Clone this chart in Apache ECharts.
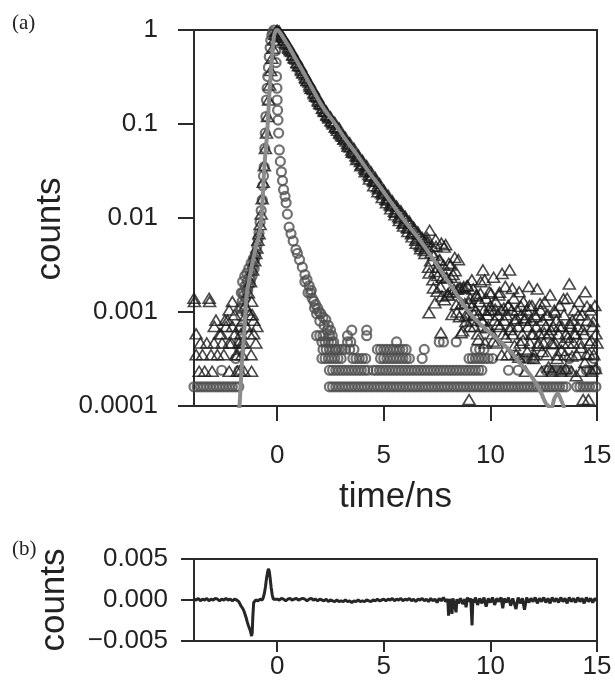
<!DOCTYPE html>
<html>
<head>
<meta charset="utf-8">
<script src="https://cdn.jsdelivr.net/npm/echarts@6/dist/echarts.min.js"></script>
<style>
html,body{margin:0;padding:0;background:#fff;}
#chart{width:615px;height:696px;}
</style>
</head>
<body>
<div id="chart"></div>
<script>
// ---------- tick labels ----------
const xTickValues = [0, 5, 10, 15];

// ---------- fitted curve (gray line) ----------
const fitCurve = [
[-1.8,0.00008],[-1.75,0.000115],[-1.65,0.00029],[-1.54,0.00064],[-1.44,0.00145],[-1.31,0.0022],
[-1.16,0.0033],[-1.0,0.0049],[-0.85,0.0065],[-0.77,0.0085],[-0.7,0.0135],[-0.6,0.035],[-0.47,0.08],
[-0.37,0.2],[-0.28,0.4],[-0.2,0.65],[-0.14,0.88],[-0.06,0.99],[0,1.0],[0.1,0.96],[0.3,0.82],
[0.56,0.66],[0.85,0.5],[1.17,0.375],[1.6,0.25],[2.13,0.153],[2.75,0.098],[3.2,0.069],[3.69,0.049],
[4.3,0.031],[4.8,0.0218],[5.26,0.0156],[5.9,0.0098],[6.67,0.0059],[7.3,0.0037],[7.9,0.0023],
[8.5,0.00145],[8.99,0.001],[9.5,0.00075],[10.0,0.0006],[10.58,0.00046],[11.0,0.00037],[11.36,0.00029],
[11.83,0.00022],[12.14,0.000174],[12.4,0.000135],[12.6,0.000107],[12.85,0.000095],[13.0,0.00012],
[13.16,0.000136],[13.32,0.000115],[13.47,0.000095]
];

// ---------- sample decay (triangles) ----------
const decayLeftTail = [
[-3.9,0.0014],[-3.88,0.00129],[-3.8,0.000585],[-3.8,0.000351],[-3.66,0.000234],[-3.6,0.000468],
[-3.5,0.000351],[-3.4,0.000234],[-3.3,0.000468],[-3.19,0.0014],[-3.17,0.00129],[-3.1,0.000351],
[-3.05,0.000234],[-2.96,0.000468],[-2.95,0.000702],[-2.87,0.000819],[-2.8,0.000351],[-2.7,0.000585],
[-2.63,0.000585],[-2.58,0.000468],[-2.5,0.000351],[-2.45,0.000819],[-2.4,0.000702],[-2.33,0.000819],
[-2.25,0.00105],[-2.25,0.000468],[-2.25,0.000234],[-2.15,0.000468],[-2.1,0.00129],[-2.1,0.000702],
[-2.0,0.000936],[-1.98,0.000585],[-1.92,0.000351],[-1.87,0.000234]
];
const decayRise = [
[-1.85,0.000351],[-1.8,0.000468],[-1.75,0.000234],[-1.7,0.000585],[-1.65,0.000351],[-1.64,0.000468],
[-1.6,0.000819],[-1.55,0.000468],[-1.55,0.000234],[-1.5,0.00117],[-1.45,0.000702],[-1.4,0.00105],
[-1.35,0.0016],[-1.31,0.000585],[-1.3,0.000936],[-1.25,0.0021],[-1.22,0.000351],[-1.2,0.0013],
[-1.2,0.000234],[-1.17,0.000936],[-1.15,0.0028],[-1.1,0.000819],[-1.1,0.000585],[-1.05,0.0035],
[-1.0,0.0042],[-1.0,0.000468],[-0.95,0.0048],[-0.95,0.000702],[-0.9,0.0058],[-0.85,0.0068],
[-0.8,0.0085],[-0.75,0.011],[-0.7,0.016],[-0.65,0.024],[-0.6,0.036],[-0.55,0.055],[-0.5,0.08],
[-0.45,0.12],[-0.4,0.18],[-0.35,0.26],[-0.3,0.37],[-0.25,0.5],[-0.2,0.64],[-0.15,0.78],[-0.1,0.9],
[-0.05,0.97]
];
const decayBand = [
[0.0,0.99],[0.1,0.97],[0.15,0.9],[0.2,0.87],[0.3,0.83],[0.35,0.78],[0.4,0.74],[0.5,0.7],[0.55,0.64],
[0.6,0.62],[0.7,0.59],[0.75,0.54],[0.8,0.51],[0.9,0.49],[0.95,0.445],[1.0,0.42],[1.1,0.41],[1.15,0.37],
[1.2,0.35],[1.3,0.335],[1.35,0.305],[1.4,0.29],[1.5,0.28],[1.55,0.25],[1.6,0.24],[1.7,0.232],
[1.75,0.21],[1.8,0.2],[1.9,0.193],[1.95,0.175],[2.0,0.166],[2.1,0.16],[2.15,0.146],[2.2,0.138],
[2.3,0.137],[2.35,0.124],[2.4,0.12],[2.5,0.119],[2.55,0.108],[2.6,0.104],[2.7,0.104],[2.75,0.094],
[2.8,0.09],[2.9,0.091],[2.95,0.082],[3.0,0.078],[3.1,0.074],[3.15,0.07],[3.2,0.072],[3.3,0.062],
[3.35,0.06],[3.4,0.063],[3.5,0.053],[3.55,0.051],[3.6,0.055],[3.7,0.046],[3.75,0.045],[3.8,0.047],
[3.9,0.04],[3.95,0.037],[4.0,0.041],[4.1,0.034],[4.15,0.033],[4.2,0.036],[4.3,0.029],[4.35,0.028],
[4.4,0.031],[4.5,0.025],[4.55,0.0245],[4.6,0.027],[4.7,0.0215],[4.75,0.0205],[4.8,0.0232],
[4.9,0.0185],[4.95,0.018],[5.0,0.0198],[5.1,0.0158],[5.15,0.0155],[5.2,0.0175],[5.3,0.0138],
[5.35,0.0135],[5.4,0.0152],[5.5,0.0118],[5.55,0.0115],[5.6,0.0134],[5.7,0.0103],[5.75,0.01],
[5.8,0.0119],[5.9,0.0088],[5.95,0.009],[6.0,0.0105],[6.1,0.0079],[6.15,0.0078],[6.2,0.0092],
[6.3,0.0068],[6.35,0.007],[6.4,0.008],[6.5,0.0058],[6.55,0.006],[6.6,0.0071],[6.7,0.0052],
[6.75,0.005],[6.8,0.0062],[6.9,0.0045],[6.95,0.0048],[7.0,0.0056]
];
const decayBandFill = [
[0.03,0.98],[0.13,0.93],[0.23,0.85],[0.33,0.79],[0.43,0.72],[0.53,0.66],[0.63,0.6],[0.73,0.55],
[0.83,0.5],[0.93,0.455],[1.03,0.42],[1.13,0.385],[1.23,0.35],[1.33,0.315],[1.43,0.29],[1.53,0.262],
[1.63,0.238],[1.73,0.216],[1.83,0.197],[1.93,0.18],[2.03,0.163],[2.13,0.148],[2.23,0.136],[2.33,0.126],
[2.43,0.116],[2.53,0.108],[2.63,0.1],[2.73,0.093],[2.83,0.086],[2.93,0.08],[3.03,0.075],[3.13,0.069],
[3.23,0.066],[3.33,0.058],[3.43,0.057],[3.53,0.05],[3.63,0.049],[3.73,0.042],[3.83,0.043],[3.93,0.036],
[4.03,0.038],[4.13,0.031],[4.23,0.032],[4.33,0.026],[4.43,0.028],[4.53,0.022],[4.63,0.025],[4.73,0.019],
[4.83,0.021],[4.93,0.0165],[5.03,0.0185],[5.13,0.0145],[5.23,0.016],[5.33,0.0125],[5.43,0.0142],
[5.53,0.0108],[5.63,0.0125],[5.73,0.0094],[5.83,0.0112],[5.93,0.0082],[6.03,0.0098],[6.13,0.0072],
[6.23,0.0087],[6.33,0.0063],[6.43,0.0076],[6.53,0.0054],[6.63,0.0067],[6.73,0.0047],[6.83,0.0059],
[6.93,0.0042]
];
const decayMid = [
[7.05,0.0056],[7.1,0.003],[7.12,0.00098],[7.15,0.0074],[7.2,0.0035],[7.25,0.005],[7.3,0.0022],
[7.35,0.004],[7.4,0.0027],[7.4,0.00125],[7.45,0.005],[7.5,0.00166],[7.55,0.003],[7.6,0.00355],
[7.65,0.00186],[7.68,0.0006],[7.7,0.0054],[7.75,0.00234],[7.8,0.00316],[7.85,0.00135],[7.9,0.0052],
[7.95,0.00234],[8.0,0.00155],[8.05,0.0033],[8.1,0.00166],[8.15,0.00234],[8.2,0.00094],[8.25,0.0025],
[8.3,0.00174],[8.35,0.00275],[8.4,0.0012],[8.45,0.00174],[8.5,0.0036],[8.55,0.00089],[8.6,0.00182],
[8.65,0.00123],[8.7,0.00063],[8.75,0.00186],[8.8,0.00123],[8.85,0.00079],[8.9,0.0019],[8.95,0.00093],
[9.0,0.00126]
];
const decayRightTail = [
[9.0,0.000117],[9.05,0.0014],[9.1,0.000819],[9.15,0.00117],[9.2,0.00176],[9.25,0.000702],[9.3,0.00105],
[9.35,0.00152],[9.4,0.000585],[9.45,0.000936],[9.5,0.00129],[9.55,0.0021],[9.6,0.000819],[9.65,0.0028],
[9.7,0.00105],[9.75,0.000468],[9.8,0.0014],[9.85,0.000936],[9.9,0.000702],[9.95,0.00164],[10.0,0.00117],
[10.05,0.00105],[10.1,0.000585],[10.15,0.00234],[10.2,0.000819],[10.25,0.00129],[10.3,0.000468],
[10.35,0.000936],[10.4,0.00152],[10.45,0.000702],[10.5,0.00105],[10.55,0.00257],[10.6,0.000585],
[10.65,0.000819],[10.7,0.00187],[10.75,0.000936],[10.8,0.000351],[10.85,0.00117],[10.9,0.0028],
[10.95,0.000702],[11.0,0.00105],[11.05,0.000585],[11.1,0.0014],[11.15,0.000819],[11.2,0.000351],
[11.25,0.00105],[11.3,0.000702],[11.35,0.00164],[11.4,0.000468],[11.45,0.000936],[11.5,0.000585],
[11.55,0.00129],[11.6,0.000819],[11.65,0.000234],[11.7,0.00105],[11.75,0.000702],[11.8,0.00187],
[11.85,0.000468],[11.9,0.000819],[11.95,0.00117],[12.0,0.000585],[12.05,0.000351],[12.1,0.000936],
[12.15,0.000702],[12.2,0.00176],[12.25,0.000468],[12.3,0.000585],[12.35,0.00105],[12.4,0.000234],
[12.45,0.000819],[12.5,0.000468],[12.55,0.00129],[12.6,0.000702],[12.65,0.000351],[12.7,0.000936],
[12.75,0.000585],[12.8,0.00152],[12.85,0.000468],[12.9,0.000234],[12.95,0.000702],[13.0,0.00105],
[13.05,0.000468],[13.1,0.000819],[13.15,0.000351],[13.2,0.000585],[13.25,0.00117],[13.3,0.000234],
[13.35,0.000702],[13.4,0.000468],[13.45,0.000936],[13.5,0.000351],[13.55,0.000585],[13.6,0.0014],
[13.65,0.000468],[13.7,0.00199],[13.75,0.000702],[13.8,0.000234],[13.85,0.000819],[13.9,0.000468],
[13.95,0.00105],[14.0,0.000585],[14.05,0.000351],[14.1,0.000702],[14.15,0.00129],[14.2,0.000468],
[14.25,0.000234],[14.3,0.000936],[14.35,0.000117],[14.4,0.000585],[14.45,0.00164],[14.5,0.000351],
[14.55,0.000819],[14.6,0.000117],[14.65,0.000468],[14.7,0.00105],[14.75,0.000234],[14.8,0.000702],
[14.85,0.000351],[14.9,0.00117],[14.95,0.000585],[15.0,0.000468]
];
const decayTailFill = [
[7.03,0.0062],[7.13,0.0026],[7.23,0.0043],[7.33,0.0018],[7.43,0.0059],[7.53,0.00245],[7.63,0.0036],
[7.73,0.00148],[7.83,0.0049],[7.93,0.00229],[8.03,0.00151],[8.13,0.00316],[8.23,0.00162],[8.33,0.0038],
[8.43,0.001],[8.53,0.00182],[8.63,0.0006],[8.73,0.00178],[8.83,0.00091],[8.93,0.0019],[9.03,0.0007],
[9.13,0.0022],[9.23,0.00095],[9.33,0.00148],[9.43,0.00051],[9.53,0.00158],[9.63,0.00079],[9.73,0.0022],
[9.83,0.00068],[9.93,0.00105],[10.03,0.00158],[10.13,0.00049],[10.23,0.00107],[10.33,0.00074],
[10.43,0.00162],[10.53,0.00035],[10.63,0.0011],[10.73,0.00054],[10.83,0.00117],[10.93,0.00065],
[11.03,0.00178],[11.13,0.00044],[11.23,0.00085],[11.33,0.00033],[11.43,0.00115],[11.53,0.0005],
[11.63,0.00087],[11.73,0.00038],[11.83,0.00117],[11.93,0.00058],[12.03,0.00032],[12.13,0.00089],
[12.23,0.00044],[12.33,0.00123],[12.43,0.00038],[12.53,0.0006],[12.63,0.00093],[12.73,0.00026],
[12.83,0.00065],[12.93,0.00046],[13.03,0.001],[13.13,0.00032],[13.23,0.00071],[13.33,0.00039],
[13.43,0.00138],[13.53,0.00025],[13.63,0.00054],[13.73,0.00076],[13.83,0.00034],[13.93,0.00059],
[14.03,0.00021],[14.13,0.00093],[14.23,0.00042],[14.33,0.00065],[14.43,0.00029],[14.53,0.00115],
[14.63,0.00036],[14.73,0.0005],[14.83,0.00079],[14.93,0.00025]
];

// ---------- instrument response (circles) ----------
const irfPeak = [
[-1.78,0.00024],[-1.78,0.00048],[-1.76,0.00064],[-1.75,0.0004],[-1.72,0.00068],[-1.72,0.0011],
[-1.7,0.0009],[-1.68,0.0011],[-1.68,0.0016],[-1.64,0.0013],[-1.62,0.0021],[-1.6,0.0016],[-1.58,0.0012],
[-1.55,0.0015],[-1.52,0.0024],[-1.5,0.0019],[-1.48,0.0014],[-1.45,0.0017],[-1.42,0.0026],[-1.4,0.0021],
[-1.38,0.0017],[-1.35,0.0019],[-1.33,0.0029],[-1.3,0.0024],[-1.27,0.002],[-1.25,0.0022],[-1.22,0.0033],
[-1.2,0.0027],[-1.18,0.0024],[-1.15,0.003],[-1.12,0.0037],[-1.1,0.0034],[-1.08,0.0029],[-1.05,0.0037],
[-1.0,0.0042],[-0.95,0.005],[-0.9,0.006],[-0.85,0.0069],[-0.8,0.009],[-0.75,0.012],[-0.7,0.0156],
[-0.67,0.022],[-0.64,0.028],[-0.61,0.035],[-0.58,0.055],[-0.56,0.08],[-0.53,0.12],[-0.5,0.18],
[-0.47,0.24],[-0.44,0.32],[-0.41,0.4],[-0.37,0.52],[-0.33,0.65],[-0.3,0.78],[-0.25,0.88],[-0.2,0.95],
[-0.15,1.0],[-0.1,0.85],[-0.07,0.6],[-0.05,0.45],[-0.03,0.32],[-0.01,0.24],[0.0,0.18],[0.02,0.14],
[0.04,0.11],[0.07,0.08],[0.1,0.053],[0.15,0.04],[0.2,0.031],[0.25,0.025],[0.3,0.02],[0.37,0.017],
[0.42,0.0145],[0.48,0.011],[0.56,0.008],[0.65,0.0068],[0.75,0.0057],[0.88,0.0046],[0.95,0.0042],
[1.05,0.0036],[1.18,0.003],[1.3,0.0025],[1.3,0.0021],[1.4,0.0022],[1.45,0.0016],[1.5,0.0019],
[1.57,0.0016],[1.6,0.0017],[1.64,0.0014],[1.72,0.0013],[1.75,0.0011],[1.8,0.0012],[1.85,0.00096],
[1.9,0.0011],[1.97,0.001],[2.0,0.0008],[2.05,0.00096],[2.15,0.00088],[2.2,0.00072],[2.28,0.00083],
[2.35,0.00064],[2.4,0.00072],[2.45,0.00056],[2.5,0.00064],[2.55,0.00048],[2.58,0.00056],[2.65,0.00048],
[2.75,0.0004]
];
const irfLevel2 = 0.00016;
const irfLevel2Times = [
-3.9,-3.75,-3.6,-3.45,-3.3,-3.15,-3.0,-2.85,-2.7,-2.55,-2.4,-2.25,-2.1,-1.95,-1.8,
2.45,2.6,2.75,2.9,3.05,3.2,3.35,3.5,3.65,3.8,3.95,4.1,4.25,4.4,4.55,4.7,4.85,5.0,5.15,5.3,5.45,5.6,
5.75,5.9,6.05,6.2,6.35,6.5,6.65,6.8,6.95,7.1,7.25,7.4,7.55,7.7,7.85,8.0,8.15,8.3,8.45,8.6,8.75,8.9,
9.05,9.2,9.35,9.5,9.65,9.8,9.95,10.1,10.25,10.4,10.55,10.7,10.85,11.0,11.15,11.3,11.45,11.6,11.75,
11.9,12.05,12.2,12.35,12.5,12.65,12.8,12.95,13.1,13.25,13.4,13.55,14.05,14.2,14.35,14.5,14.65,14.8,14.95
];
const irfLevel3 = 0.00024;
const irfLevel3Times = [
-2.6,2.45,2.6,2.75,2.9,3.05,3.2,3.35,3.5,3.65,3.8,3.95,4.1,4.25,4.5,4.65,4.8,4.95,5.1,5.25,5.4,5.55,
5.7,5.85,6.0,6.15,6.3,6.45,6.6,6.75,6.9,7.05,7.2,7.35,7.5,7.65,7.8,7.95,8.1,8.25,8.4,8.55,8.7,8.85,
9.0,9.15,9.3,9.45,9.6,10.85,11.3,12.6,12.75,12.9,13.05,13.2,13.35,13.5,13.65,14.5,14.65,14.8,14.95
];
const irfLevel4 = 0.00032;
const irfLevel4Times = [
-1.94,2.1,2.25,2.4,2.55,2.7,2.85,3.0,3.55,3.7,3.85,4.0,4.15,4.85,5.0,5.15,5.3,5.45,5.6,5.75,5.9,6.05,
6.2,6.8,9.0,9.15,9.3,9.45,9.6,9.75,9.9,10.1,11.4,11.55,11.75,11.9,12.05,13.7,14.85
];
const irfLevel5 = 0.0004;
const irfLevel5Times = [
2.15,2.3,2.45,2.6,2.75,2.9,3.05,3.2,3.4,3.6,4.7,4.85,5.0,5.15,5.3,5.45,5.6,5.75,5.9,6.05,6.9,9.3,9.5,9.7
];
const irfLevel6 = 0.00048;
const irfLevel6Times = [2.1,2.25,2.4,3.3,3.45,5.6,7.6,7.8,8.4];
const irfLevel7 = 0.00056;
const irfLevel7Times = [1.85,2.0,2.15,3.3,4.2];
const irfLevel8 = 0.00064;
const irfLevel8Times = [3.5,4.2];

// ---------- residuals ----------
const residuals = [
[-3.9,0.0001],[-3.8,0.0],[-3.7,0.0002],[-3.6,-0.0001],[-3.5,0.0001],[-3.4,0.0],[-3.3,0.0002],[-3.2,-0.0001],
[-3.1,0.0001],[-3.0,0.0],[-2.9,0.0002],[-2.8,0.0001],[-2.7,-0.0001],[-2.6,0.0001],[-2.5,0.0],[-2.4,0.0002],
[-2.3,0.0],[-2.2,0.0001],[-2.1,-0.0001],[-2.0,0.0001],[-1.9,0.0],[-1.8,-0.0002],[-1.75,-0.0004],[-1.7,-0.0007],
[-1.65,-0.0009],[-1.6,-0.0011],[-1.55,-0.0014],[-1.5,-0.0018],[-1.45,-0.0022],[-1.4,-0.0027],[-1.35,-0.0031],
[-1.3,-0.0029],[-1.25,-0.0038],[-1.2,-0.0044],[-1.17,-0.004],[-1.14,-0.002],[-1.1,-0.0003],[-1.0,0.0],
[-0.9,-0.0001],[-0.8,0.0001],[-0.7,0.0],[-0.65,0.0003],[-0.6,0.0008],[-0.55,0.0016],[-0.5,0.0026],
[-0.45,0.0034],[-0.41,0.0038],[-0.37,0.0035],[-0.33,0.0027],[-0.28,0.0015],[-0.23,0.0006],[-0.18,0.0001],
[-0.1,-0.0001],[0.0,0.0001],[0.1,0.0],[0.2,0.0002],[0.3,0.0001],[0.4,-0.0001],[0.5,0.0001],[0.6,0.0002],
[0.7,0.0],[0.8,0.0001],[0.9,0.0002],[1.0,0.0],[1.1,0.0001],[1.2,0.0002],[1.3,0.0001],[1.4,-0.0001],
[1.5,0.0001],[1.6,0.0002],[1.7,0.0],[1.8,0.0001],[1.9,-0.0001],[2.0,0.0001],[2.1,0.0],[2.2,-0.0001],
[2.3,0.0001],[2.4,-0.0002],[2.5,0.0],[2.6,-0.0001],[2.7,-0.0002],[2.8,0.0],[2.9,-0.0002],[3.0,-0.0001],
[3.1,-0.0002],[3.2,0.0],[3.3,-0.0002],[3.4,-0.0001],[3.5,-0.0003],[3.6,-0.0001],[3.7,-0.0002],[3.8,0.0],
[3.9,-0.0002],[4.0,-0.0001],[4.1,-0.0002],[4.2,0.0],[4.3,-0.0001],[4.4,-0.0002],[4.5,0.0],[4.6,-0.0001],
[4.7,0.0001],[4.8,-0.0001],[4.9,0.0],[5.0,0.0001],[5.1,-0.0001],[5.2,0.0001],[5.3,0.0],[5.4,0.0002],
[5.5,-0.0001],[5.6,0.0001],[5.7,0.0],[5.8,0.0002],[5.9,-0.0001],[6.0,0.0001],[6.1,0.0],[6.2,0.0002],
[6.3,-0.0001],[6.4,0.0001],[6.5,-0.0002],[6.6,0.0001],[6.7,0.0],[6.8,0.0002],[6.9,-0.0001],[7.0,0.0001],
[7.1,-0.0002],[7.2,0.0002],[7.3,-0.0001],[7.4,0.0001],[7.5,-0.0003],[7.6,0.0002],[7.7,-0.0001],[7.8,0.0003],
[7.9,-0.0002],[8.0,0.0001],[8.04,-0.0019],[8.08,0.0001],[8.15,-0.0002],[8.2,-0.0017],[8.24,0.0002],
[8.3,-0.0003],[8.39,-0.0015],[8.43,0.0001],[8.5,-0.0004],[8.6,0.0002],[8.7,-0.0005],[8.8,0.0001],
[8.86,-0.0009],[8.92,0.0003],[9.0,-0.0002],[9.08,0.0002],[9.14,-0.0031],[9.18,0.0001],[9.25,-0.0003],
[9.3,0.0003],[9.4,-0.0006],[9.5,0.0002],[9.6,-0.0004],[9.7,0.0003],[9.8,-0.0008],[9.9,0.0002],[10.0,-0.0003],
[10.1,0.0003],[10.2,-0.0006],[10.3,0.0002],[10.4,-0.0002],[10.5,0.0003],[10.58,-0.001],[10.65,0.0002],
[10.75,-0.0003],[10.85,0.0003],[10.95,-0.0007],[11.05,0.0002],[11.2,-0.0011],[11.3,0.0003],[11.4,-0.0004],
[11.5,0.0002],[11.6,-0.0012],[11.7,0.0003],[11.8,-0.0003],[11.9,0.0002],[12.0,-0.0002],[12.1,0.0003],
[12.2,-0.0004],[12.3,0.0002],[12.4,-0.0002],[12.5,0.0003],[12.6,-0.0003],[12.7,0.0002],[12.8,-0.0004],
[12.9,0.0003],[13.0,-0.0002],[13.1,0.0002],[13.2,-0.0003],[13.3,0.0003],[13.4,-0.0002],[13.5,0.0002],
[13.6,-0.0004],[13.7,0.0003],[13.8,-0.0002],[13.9,0.0002],[14.0,-0.0003],[14.1,0.0003],[14.2,-0.0002],
[14.3,0.0002],[14.4,-0.0004],[14.5,0.0003],[14.6,-0.0002],[14.7,0.0002],[14.8,-0.0003],[14.9,0.0002],
[15.0,-0.0001]
];

// ---------- build ----------
const levelPoints = (times, level) => times.map(t => [t, level]);
const irfData = irfPeak
  .concat(levelPoints(irfLevel2Times, irfLevel2))
  .concat(levelPoints(irfLevel3Times, irfLevel3))
  .concat(levelPoints(irfLevel4Times, irfLevel4))
  .concat(levelPoints(irfLevel5Times, irfLevel5))
  .concat(levelPoints(irfLevel6Times, irfLevel6))
  .concat(levelPoints(irfLevel7Times, irfLevel7))
  .concat(levelPoints(irfLevel8Times, irfLevel8));
const decayData = decayLeftTail.concat(decayRise, decayBand, decayBandFill, decayMid, decayRightTail, decayTailFill);

const FONT = '"Liberation Sans", Arial, sans-serif';
const ink = '#2a2a2a';

const chart = echarts.init(document.getElementById('chart'), null, {renderer: 'canvas'});
const option = {
  animation: false,
  backgroundColor: '#ffffff',
  textStyle: {fontFamily: FONT},
  grid: [
    {left: 194, right: 18, top: 30, height: 376, show: true, borderColor: ink, borderWidth: 2, backgroundColor: 'transparent'},
    {left: 194, right: 18, top: 559, height: 82, show: true, borderColor: ink, borderWidth: 2, backgroundColor: 'transparent'}
  ],
  graphic: [
    {type: 'text', left: 12, top: 13, style: {text: '(a)', font: '21px "Liberation Serif", serif', fill: '#222'}},
    {type: 'text', left: 12, top: 539, style: {text: '(b)', font: '21px "Liberation Serif", serif', fill: '#222'}}
  ],
  xAxis: [
    {
      gridIndex: 0, type: 'value', min: -3.9, max: 15,
      axisLine: {show: true, onZero: false, lineStyle: {color: ink, width: 2}},
      axisTick: {show: true, length: 15, customValues: xTickValues, lineStyle: {color: ink, width: 2}},
      axisLabel: {customValues: xTickValues, fontSize: 26, color: '#222', margin: 37, fontFamily: FONT},
      splitLine: {show: false},
      name: 'time/ns', nameLocation: 'middle', nameGap: 74,
      nameTextStyle: {fontSize: 35, color: '#222', fontFamily: FONT}
    },
    {
      gridIndex: 1, type: 'value', min: -3.9, max: 15,
      axisLine: {show: true, onZero: false, lineStyle: {color: ink, width: 2}},
      axisTick: {show: true, length: 11, customValues: xTickValues, lineStyle: {color: ink, width: 2}},
      axisLabel: {customValues: xTickValues, fontSize: 26, color: '#222', margin: 13, fontFamily: FONT},
      splitLine: {show: false}
    }
  ],
  yAxis: [
    {
      gridIndex: 0, type: 'log', logBase: 10, min: 0.0001, max: 1,
      axisLine: {show: true, onZero: false, lineStyle: {color: ink, width: 2}},
      axisTick: {show: true, length: 16, lineStyle: {color: ink, width: 2}},
      minorTick: {show: false},
      axisLabel: {fontSize: 26, color: '#222', margin: 36, fontFamily: FONT,
        formatter: v => String(+Number(v).toPrecision(2))},
      splitLine: {show: false},
      name: 'counts', nameLocation: 'middle', nameGap: 111,
      nameTextStyle: {fontSize: 35, color: '#222', fontFamily: FONT, padding: [0, 22, 0, 0]}
    },
    {
      gridIndex: 1, type: 'value', min: -0.005, max: 0.005, interval: 0.005,
      axisLine: {show: true, onZero: false, lineStyle: {color: ink, width: 2}},
      axisTick: {show: true, length: 13, lineStyle: {color: ink, width: 2}},
      axisLabel: {fontSize: 26, color: '#222', margin: 26, fontFamily: FONT,
        formatter: v => (v < -1e-9 ? '\u2212' : '') + Math.abs(v).toFixed(3)},
      splitLine: {show: false},
      name: 'counts', nameLocation: 'middle', nameGap: 122,
      nameTextStyle: {fontSize: 35, color: '#222', fontFamily: FONT}
    }
  ],
  series: [
    {
      type: 'scatter', xAxisIndex: 0, yAxisIndex: 0, data: irfData,
      symbol: 'circle', symbolSize: 9, z: 2, silent: true,
      itemStyle: {color: 'rgba(0,0,0,0)', borderColor: '#4f4f4f', borderWidth: 2.2}
    },
    {
      type: 'scatter', xAxisIndex: 0, yAxisIndex: 0, data: decayData,
      symbol: 'triangle', symbolSize: [12, 10], z: 3, silent: true,
      itemStyle: {color: 'rgba(0,0,0,0)', borderColor: '#1c1c1c', borderWidth: 1.6}
    },
    {
      type: 'line', xAxisIndex: 0, yAxisIndex: 0, data: fitCurve,
      showSymbol: false, symbol: 'none', z: 4, silent: true, smooth: 0.3,
      lineStyle: {color: '#8c8c8c', width: 4}
    },
    {
      type: 'line', xAxisIndex: 1, yAxisIndex: 1, data: residuals,
      showSymbol: false, symbol: 'none', z: 3, silent: true,
      lineStyle: {color: '#262626', width: 3}
    }
  ]
};
chart.setOption(option);
</script>
</body>
</html>
